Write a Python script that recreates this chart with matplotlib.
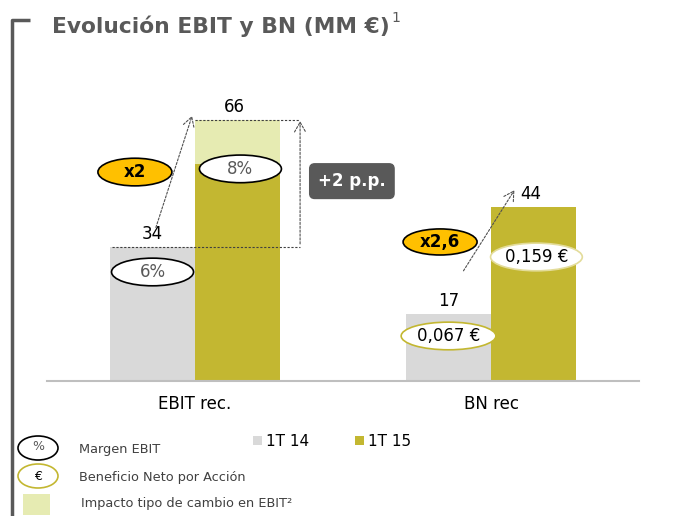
import matplotlib.pyplot as plt
from matplotlib.patches import Ellipse, Rectangle
import numpy as np

categories = ["EBIT rec.", "BN rec"]
q1_14 = [34, 17]
q1_15 = [66, 44]
fx_impact = 11          # parte del EBIT 1T15 por tipo de cambio
margin_labels = ["6%", "8%"]
eps_labels = ["0,067 €", "0,159 €"]
growth_labels = ["x2", "x2,6"]

gray = "#D9D9D9"
olive = "#C3B731"
light = "#E6EBB2"
dark = "#595959"
gold = "#FFC000"

fig = plt.figure(figsize=(6.78, 5.16), dpi=100)

# capa de decoracion en pixeles
deco = fig.add_axes([0, 0, 1, 1])
deco.set_xlim(0, 678)
deco.set_ylim(516, 0)
deco.axis("off")

ax = fig.add_axes([47 / 678, 135 / 516, 592 / 678, 316 / 516])
x = np.arange(len(categories))
w = 0.287
ax.bar(x - w / 2, q1_14, w, color=gray, label="1T 14")
ax.bar(x + w / 2, q1_15, w, color=olive, label="1T 15")
# impacto tipo de cambio encima del EBIT 1T15
ax.bar(x[0] + w / 2, fx_impact, w, bottom=q1_15[0] - fx_impact, color=light)
ax.set_xlim(-0.5, 1.5)
ax.set_ylim(0, 80)
for s in ["top", "right", "left"]:
    ax.spines[s].set_visible(False)
ax.spines["bottom"].set_color("#BFBFBF")
ax.spines["bottom"].set_linewidth(1.5)
ax.set_yticks([])
ax.set_xticks(x)
ax.set_xticklabels(categories, fontsize=12)
ax.tick_params(axis="x", length=0, pad=10)

# etiquetas de valor
for i in range(len(categories)):
    ax.annotate(str(q1_14[i]), (x[i] - w / 2, q1_14[i]), xytext=(0, 3),
                textcoords="offset points", ha="center", va="bottom", fontsize=12)
    ax.annotate(str(q1_15[i]), (x[i] + w / 2 - 0.01, q1_15[i]), xytext=(0, 3),
                textcoords="offset points", ha="center", va="bottom", fontsize=12)

# elipses de margen EBIT y BPA
ell_w = 0.277
ell_h = 7.0
ax.add_patch(Ellipse((x[0] - w / 2, 27.6), ell_w, ell_h, fc="white", ec="black", lw=1.2, zorder=3))
ax.text(x[0] - w / 2, 27.6, margin_labels[0], ha="center", va="center", fontsize=12, color=dark, zorder=4)
ax.add_patch(Ellipse((x[0] + w / 2 + 0.01, 53.7), ell_w, ell_h, fc="white", ec="black", lw=1.2, zorder=3))
ax.text(x[0] + w / 2 + 0.01, 53.7, margin_labels[1], ha="center", va="center", fontsize=12, color=dark, zorder=4)
ax.add_patch(Ellipse((x[1] - w / 2, 11.4), 0.32, ell_h, fc="white", ec=olive, lw=1.2, zorder=3))
ax.text(x[1] - w / 2, 11.4, eps_labels[0], ha="center", va="center", fontsize=12, zorder=4)
ax.add_patch(Ellipse((x[1] + w / 2 + 0.01, 31.4), 0.31, ell_h, fc="white", ec="#E3DC9A", lw=1.2, zorder=3))
ax.text(x[1] + w / 2 + 0.01, 31.4, eps_labels[1], ha="center", va="center", fontsize=12, zorder=4)

# ovalos de crecimiento
ax.add_patch(Ellipse((-0.203, 52.9), 0.25, 7.0, fc=gold, ec="black", lw=1.2, zorder=3))
ax.text(-0.203, 52.9, growth_labels[0], ha="center", va="center", fontsize=12, fontweight="bold", zorder=4)
ax.add_patch(Ellipse((0.828, 35.2), 0.25, 6.6, fc=gold, ec="black", lw=1.2, zorder=3))
ax.text(0.828, 35.2, growth_labels[1], ha="center", va="center", fontsize=12, fontweight="bold", zorder=4)

# +2 p.p.
ax.text(0.53, 50.6, "+2 p.p.", ha="center", va="center", fontsize=12, fontweight="bold",
        color="white", bbox=dict(boxstyle="round,pad=0.5,rounding_size=0.3", fc=dark, ec=dark))

# lineas punteadas y flechas
ls = (0, (2, 1.5))
ax.plot([-0.28, 0.355], [q1_14[0], q1_14[0]], color="#404040", lw=0.8, ls=ls)
ax.plot([0.0, 0.355], [q1_15[0], q1_15[0]], color="#404040", lw=0.8, ls=ls)
arr = dict(arrowstyle="->,head_length=0.7,head_width=0.4", color="#505050", lw=0.8, ls=ls)
ax.annotate("", xy=(0.355, q1_15[0] + 0.5), xytext=(0.355, q1_14[0]), arrowprops=arr)
ax.annotate("", xy=(-0.007, 67.8), xytext=(-0.135, 38.2), arrowprops=arr)
ax.annotate("", xy=(1.084, 48.9), xytext=(0.902, 27.3), arrowprops=arr)

# titulo y corchete
deco.plot([12, 12, 30], [516, 20, 20], color=dark, lw=2.5, solid_capstyle="butt")
deco.text(52, 26, "Evolución EBIT y BN (MM €)", fontsize=15.7, fontweight="bold", color=dark, va="center")
deco.text(391, 18, "1", fontsize=10, color=dark, va="center")

# leyenda series
deco.add_patch(Rectangle((253, 436), 9, 9, fc=gray, ec="none"))
deco.text(266, 441, "1T 14", fontsize=11, va="center")
deco.add_patch(Rectangle((355, 436), 9, 9, fc=olive, ec="none"))
deco.text(368, 441, "1T 15", fontsize=11, va="center")

# leyenda simbolos
deco.add_patch(Ellipse((38, 448), 40, 24, fc="white", ec="black", lw=1.2))
deco.text(38, 447, "%", fontsize=9, ha="center", va="center", color=dark)
deco.add_patch(Ellipse((38, 476), 40, 24, fc="white", ec=olive, lw=1.2))
deco.text(38, 476, "€", fontsize=9, ha="center", va="center")
deco.add_patch(Rectangle((23, 494), 27, 21, fc=light, ec="none"))
deco.text(79, 450, "Margen EBIT", fontsize=9.3, va="center", color="#404040")
deco.text(79, 477, "Beneficio Neto por Acción", fontsize=9.3, va="center", color="#404040")
deco.text(81, 504, "Impacto tipo de cambio en EBIT²", fontsize=9.3, va="center", color="#404040")

fig.savefig("out.png", dpi=100)
